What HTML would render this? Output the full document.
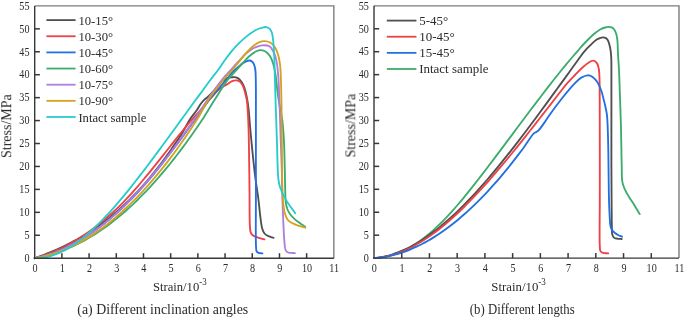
<!DOCTYPE html>
<html><head><meta charset="utf-8"><style>
html,body{margin:0;padding:0;background:#fff;}
body{width:685px;height:319px;overflow:hidden;}
svg{display:block;}
text{font-family:"Liberation Serif",serif;fill:#2a2a2a;}
.tx{opacity:0.995;will-change:opacity;}



</style></head><body>
<svg width="685" height="319" viewBox="0 0 685 319">
<rect width="685" height="319" fill="#fff"/>
<g fill="none" stroke-width="1.85" stroke-linecap="round" stroke-linejoin="round">
<path d="M34.70,258.20 C36.03,257.72 37.37,257.25 38.70,256.75 C40.03,256.26 41.37,255.76 42.70,255.25 C44.04,254.74 45.37,254.22 46.70,253.69 C48.04,253.16 49.37,252.62 50.70,252.06 C52.04,251.51 53.37,250.94 54.70,250.37 C56.04,249.79 57.37,249.20 58.70,248.59 C60.04,247.99 61.37,247.37 62.70,246.74 C64.04,246.11 65.37,245.47 66.70,244.81 C68.04,244.15 69.37,243.47 70.70,242.78 C72.04,242.09 73.37,241.39 74.70,240.66 C76.04,239.94 77.37,239.20 78.70,238.45 C80.04,237.69 81.37,236.92 82.70,236.13 C84.04,235.34 85.37,234.53 86.70,233.70 C88.04,232.87 89.37,232.03 90.70,231.17 C92.04,230.30 93.37,229.41 94.70,228.51 C96.04,227.60 97.37,226.68 98.70,225.73 C100.04,224.78 101.37,223.82 102.70,222.83 C104.04,221.84 105.37,220.83 106.70,219.80 C108.04,218.76 109.37,217.70 110.70,216.63 C112.04,215.54 113.37,214.44 114.70,213.32 C116.04,212.19 117.37,211.04 118.70,209.87 C120.04,208.68 121.37,207.48 122.70,206.26 C124.04,205.03 125.37,203.78 126.70,202.50 C128.04,201.22 129.37,199.91 130.70,198.59 C132.04,197.25 133.37,195.89 134.70,194.51 C136.04,193.11 137.37,191.70 138.70,190.26 C140.04,188.81 141.37,187.34 142.70,185.85 C144.04,184.35 145.37,182.82 146.70,181.28 C148.04,179.71 149.37,178.13 150.70,176.53 C152.04,174.91 153.37,173.27 154.70,171.61 C156.04,169.93 157.37,168.23 158.70,166.52 C160.04,164.78 161.37,163.03 162.70,161.25 C164.04,159.46 165.37,157.64 166.70,155.81 C168.04,153.95 169.37,152.08 170.70,150.18 C172.04,148.27 173.37,146.33 174.70,144.38 C176.04,142.41 177.37,140.41 178.70,138.40 C180.04,136.36 181.24,134.67 182.70,132.24 C184.72,128.88 187.05,123.80 189.50,120.00 C191.81,116.42 194.84,113.01 196.90,110.00 C198.52,107.63 199.63,105.35 201.00,103.50 C202.13,101.98 203.25,100.68 204.40,99.60 C205.39,98.67 206.41,98.13 207.40,97.30 C208.44,96.43 209.48,95.53 210.50,94.50 C211.61,93.38 212.67,92.08 213.80,90.80 C215.00,89.43 216.29,87.94 217.50,86.50 C218.69,85.07 219.75,83.39 221.00,82.20 C222.10,81.14 223.29,80.31 224.50,79.60 C225.63,78.93 226.80,78.38 228.00,78.00 C229.17,77.62 230.42,77.45 231.60,77.30 C232.72,77.16 233.82,76.93 234.90,77.10 C236.02,77.28 237.25,77.80 238.20,78.40 C239.09,78.96 239.77,79.63 240.50,80.50 C241.39,81.57 242.24,82.96 243.00,84.50 C243.92,86.36 244.72,88.63 245.40,91.00 C246.19,93.73 246.76,96.91 247.30,100.00 C247.87,103.24 248.31,106.51 248.70,110.00 C249.13,113.81 249.32,117.60 249.70,122.00 C250.16,127.39 250.62,133.01 251.30,140.00 C252.25,149.75 253.69,164.32 255.00,175.00 C256.11,184.04 257.54,192.34 258.50,200.00 C259.31,206.49 259.79,212.81 260.50,218.00 C261.04,221.98 261.34,225.69 262.20,228.50 C262.82,230.52 263.39,232.20 264.50,233.50 C265.54,234.72 267.03,235.49 268.50,236.20 C270.05,236.95 271.90,237.27 273.60,237.80" stroke="#4f4f4f"/>
<path d="M34.70,258.20 C36.03,257.80 37.37,257.41 38.70,256.99 C40.04,256.57 41.37,256.14 42.70,255.70 C44.04,255.25 45.37,254.79 46.70,254.31 C48.04,253.82 49.37,253.33 50.70,252.80 C52.04,252.28 53.37,251.74 54.70,251.18 C56.04,250.61 57.37,250.03 58.70,249.42 C60.04,248.80 61.37,248.17 62.70,247.51 C64.04,246.85 65.37,246.16 66.70,245.46 C68.04,244.75 69.37,244.01 70.70,243.26 C72.04,242.51 73.37,241.73 74.70,240.94 C76.04,240.14 77.37,239.33 78.70,238.50 C80.04,237.66 81.37,236.81 82.70,235.94 C84.04,235.06 85.37,234.16 86.70,233.25 C88.04,232.33 89.37,231.39 90.70,230.44 C92.04,229.47 93.37,228.49 94.70,227.49 C96.04,226.48 97.37,225.46 98.70,224.41 C100.04,223.35 101.37,222.28 102.70,221.19 C104.04,220.08 105.37,218.96 106.70,217.82 C108.04,216.66 109.37,215.49 110.70,214.30 C112.04,213.09 113.37,211.87 114.70,210.62 C116.04,209.37 117.37,208.09 118.70,206.79 C120.04,205.48 121.37,204.15 122.70,202.80 C124.04,201.43 125.37,200.04 126.70,198.63 C128.04,197.21 129.37,195.77 130.70,194.31 C132.04,192.84 133.37,191.35 134.70,189.84 C136.04,188.32 137.37,186.78 138.70,185.24 C140.04,183.68 141.37,182.11 142.70,180.52 C144.04,178.93 145.37,177.32 146.70,175.71 C148.04,174.09 149.37,172.45 150.70,170.82 C152.04,169.17 153.37,167.52 154.70,165.86 C156.04,164.19 157.37,162.52 158.70,160.85 C160.03,159.18 161.37,157.50 162.70,155.82 C164.03,154.13 165.37,152.45 166.70,150.77 C168.03,149.08 169.37,147.40 170.70,145.72 C172.03,144.04 173.37,142.36 174.70,140.69 C176.03,139.02 177.36,137.35 178.70,135.69 C180.03,134.04 181.36,132.39 182.70,130.75 C184.03,129.12 184.95,127.95 186.70,125.87 C189.90,122.08 196.55,114.55 200.50,110.00 C203.47,106.58 205.84,103.81 208.30,101.00 C210.48,98.51 212.51,96.11 214.50,94.00 C216.23,92.16 217.86,90.35 219.50,89.00 C220.85,87.88 222.19,87.09 223.50,86.30 C224.69,85.58 225.77,85.14 227.00,84.40 C228.45,83.52 229.94,81.97 231.60,81.30 C233.22,80.65 235.29,80.21 236.80,80.40 C238.05,80.56 239.13,81.11 240.10,81.90 C241.21,82.81 242.12,84.26 242.90,85.80 C243.82,87.63 244.37,90.03 245.00,92.30 C245.68,94.74 246.33,96.99 246.80,100.00 C247.45,104.15 247.70,110.00 248.00,115.00 C248.30,120.00 248.44,124.64 248.60,130.00 C248.79,136.19 248.87,142.19 249.00,150.00 C249.18,161.05 249.35,177.02 249.50,190.00 C249.65,202.32 249.41,218.93 249.90,226.00 C250.10,228.97 250.04,230.62 250.70,232.30 C251.22,233.63 251.93,234.65 253.00,235.50 C254.25,236.50 256.21,236.98 258.00,237.60 C259.98,238.29 262.27,238.80 264.40,239.40" stroke="#ee4045"/>
<path d="M34.70,258.20 C36.03,257.88 37.37,257.58 38.70,257.24 C40.04,256.90 41.37,256.54 42.70,256.16 C44.04,255.79 45.37,255.39 46.70,254.98 C48.04,254.56 49.37,254.12 50.70,253.67 C52.04,253.21 53.37,252.74 54.70,252.24 C56.04,251.74 57.37,251.22 58.70,250.68 C60.04,250.14 61.37,249.58 62.70,249.00 C64.04,248.41 65.37,247.81 66.70,247.18 C68.04,246.55 69.37,245.90 70.70,245.23 C72.04,244.56 73.37,243.86 74.70,243.15 C76.04,242.43 77.37,241.69 78.70,240.93 C80.04,240.16 81.37,239.38 82.70,238.57 C84.04,237.76 85.37,236.93 86.70,236.08 C88.04,235.23 89.37,234.35 90.70,233.46 C92.04,232.56 93.37,231.64 94.70,230.70 C96.04,229.75 97.37,228.79 98.70,227.80 C100.04,226.81 101.37,225.80 102.70,224.77 C104.04,223.73 105.37,222.67 106.70,221.60 C108.04,220.51 109.37,219.41 110.70,218.29 C112.04,217.16 113.37,216.01 114.70,214.85 C116.04,213.67 117.37,212.48 118.70,211.27 C120.04,210.05 121.37,208.81 122.70,207.55 C124.04,206.28 125.37,205.00 126.70,203.70 C128.04,202.39 129.37,201.06 130.70,199.71 C132.04,198.35 133.37,196.97 134.70,195.58 C136.04,194.18 137.37,192.76 138.70,191.32 C140.04,189.87 141.37,188.40 142.70,186.92 C144.04,185.42 145.37,183.91 146.70,182.38 C148.04,180.84 149.37,179.28 150.70,177.71 C152.04,176.12 153.37,174.52 154.70,172.90 C156.04,171.27 157.37,169.63 158.70,167.97 C160.04,166.31 161.37,164.63 162.70,162.93 C164.04,161.23 165.37,159.52 166.70,157.79 C168.04,156.06 169.37,154.31 170.70,152.56 C172.04,150.80 173.37,149.02 174.70,147.24 C176.04,145.46 177.37,143.66 178.70,141.86 C180.04,140.05 181.37,138.23 182.70,136.41 C184.04,134.58 185.37,132.75 186.70,130.91 C188.03,129.08 189.37,127.24 190.70,125.40 C192.03,123.56 193.37,121.72 194.70,119.89 C196.03,118.06 197.36,116.23 198.70,114.41 C200.03,112.59 201.23,111.02 202.70,108.98 C204.58,106.37 206.29,103.51 209.00,100.00 C213.20,94.57 221.48,85.32 226.00,80.00 C229.00,76.47 231.17,73.56 233.50,71.20 C235.27,69.41 236.88,68.17 238.50,66.80 C239.97,65.55 241.40,64.26 242.80,63.30 C243.99,62.48 245.14,61.77 246.30,61.30 C247.34,60.88 248.42,60.44 249.40,60.50 C250.31,60.55 251.26,60.92 252.00,61.50 C252.83,62.15 253.47,63.24 254.00,64.40 C254.64,65.81 255.00,67.48 255.30,69.50 C255.73,72.36 255.68,75.37 255.80,80.00 C256.03,89.03 255.88,104.38 255.90,120.00 C255.93,142.09 255.87,177.00 255.90,200.00 C255.92,217.44 255.55,238.23 256.00,246.00 C256.15,248.64 255.97,250.12 256.60,251.30 C257.03,252.11 257.69,252.54 258.50,252.90 C259.52,253.35 261.10,253.23 262.40,253.40" stroke="#2270e0"/>
<path d="M34.70,258.20 C36.03,257.96 37.37,257.74 38.70,257.48 C40.04,257.21 41.37,256.93 42.70,256.63 C44.04,256.33 45.37,256.01 46.70,255.66 C48.04,255.32 49.37,254.96 50.70,254.57 C52.04,254.19 53.37,253.78 54.70,253.36 C56.04,252.93 57.37,252.49 58.70,252.02 C60.04,251.55 61.37,251.07 62.70,250.56 C64.04,250.05 65.37,249.52 66.70,248.97 C68.04,248.42 69.37,247.85 70.70,247.26 C72.04,246.67 73.37,246.06 74.70,245.42 C76.04,244.79 77.37,244.14 78.70,243.46 C80.04,242.79 81.37,242.09 82.70,241.37 C84.04,240.66 85.37,239.92 86.70,239.16 C88.04,238.40 89.37,237.62 90.70,236.82 C92.04,236.02 93.37,235.19 94.70,234.35 C96.04,233.51 97.37,232.64 98.70,231.76 C100.04,230.87 101.37,229.96 102.70,229.04 C104.04,228.10 105.37,227.15 106.70,226.19 C108.04,225.21 109.37,224.22 110.70,223.21 C112.04,222.19 113.37,221.15 114.70,220.10 C116.04,219.04 117.37,217.96 118.70,216.86 C120.04,215.76 121.37,214.64 122.70,213.50 C124.04,212.35 125.37,211.18 126.70,210.00 C128.04,208.81 129.37,207.60 130.70,206.38 C132.04,205.14 133.37,203.89 134.70,202.62 C136.04,201.34 137.37,200.05 138.70,198.74 C140.04,197.41 141.37,196.07 142.70,194.72 C144.04,193.35 145.37,191.97 146.70,190.57 C148.04,189.16 149.37,187.73 150.70,186.29 C152.04,184.84 153.37,183.37 154.70,181.89 C156.04,180.39 157.37,178.88 158.70,177.35 C160.04,175.81 161.37,174.25 162.70,172.68 C164.04,171.10 165.37,169.50 166.70,167.89 C168.04,166.26 169.37,164.62 170.70,162.97 C172.04,161.30 173.37,159.61 174.70,157.92 C176.04,156.20 177.37,154.48 178.70,152.74 C180.04,150.98 181.37,149.22 182.70,147.43 C184.04,145.64 185.37,143.83 186.70,142.00 C188.04,140.17 189.37,138.31 190.70,136.45 C192.04,134.57 193.37,132.67 194.70,130.76 C196.04,128.84 197.37,126.91 198.70,124.96 C200.04,122.99 201.05,121.58 202.70,119.02 C205.63,114.50 210.42,106.40 214.50,100.00 C218.71,93.39 223.44,85.40 227.60,80.00 C230.72,75.95 233.84,73.10 236.60,70.00 C238.98,67.33 241.00,64.89 243.20,62.50 C245.30,60.23 247.31,57.88 249.50,56.00 C251.52,54.26 253.84,52.47 255.80,51.50 C257.28,50.77 258.65,50.33 260.00,50.20 C261.21,50.09 262.41,50.26 263.50,50.60 C264.57,50.93 265.52,51.43 266.50,52.20 C267.74,53.18 269.06,54.63 270.10,56.30 C271.37,58.34 272.33,61.01 273.20,63.80 C274.23,67.12 274.94,70.98 275.60,75.00 C276.35,79.62 276.65,85.01 277.30,90.00 C277.95,95.01 278.67,100.01 279.50,105.00 C280.33,110.01 281.58,114.62 282.30,120.00 C283.12,126.17 283.50,132.65 283.90,140.00 C284.39,148.98 284.58,161.01 284.80,170.00 C284.98,177.34 285.00,184.11 285.20,190.00 C285.36,194.66 285.29,198.95 285.80,202.50 C286.19,205.19 286.71,207.47 287.50,209.50 C288.17,211.22 288.92,212.49 290.00,214.00 C291.28,215.79 293.17,217.83 294.90,219.40 C296.52,220.87 298.28,221.97 300.00,223.20 C301.71,224.43 303.47,225.60 305.20,226.80" stroke="#3cac6c"/>
<path d="M34.70,258.20 C36.03,257.91 37.37,257.65 38.70,257.34 C40.04,257.03 41.37,256.70 42.70,256.34 C44.04,255.98 45.37,255.60 46.70,255.20 C48.04,254.80 49.37,254.37 50.70,253.92 C52.04,253.47 53.37,253.00 54.70,252.51 C56.04,252.01 57.37,251.49 58.70,250.95 C60.04,250.40 61.37,249.84 62.70,249.25 C64.04,248.66 65.37,248.05 66.70,247.42 C68.04,246.78 69.37,246.12 70.70,245.44 C72.04,244.76 73.37,244.05 74.70,243.33 C76.04,242.60 77.37,241.85 78.70,241.08 C80.04,240.30 81.37,239.50 82.70,238.69 C84.04,237.86 85.37,237.02 86.70,236.16 C88.04,235.29 89.37,234.40 90.70,233.50 C92.04,232.58 93.37,231.65 94.70,230.69 C96.04,229.73 97.37,228.75 98.70,227.75 C100.04,226.75 101.37,225.72 102.70,224.68 C104.04,223.63 105.37,222.56 106.70,221.47 C108.04,220.37 109.37,219.25 110.70,218.12 C112.04,216.97 113.37,215.81 114.70,214.63 C116.04,213.44 117.37,212.24 118.70,211.01 C120.04,209.78 121.37,208.52 122.70,207.25 C124.04,205.97 125.37,204.68 126.70,203.36 C128.04,202.04 129.37,200.69 130.70,199.33 C132.04,197.96 133.37,196.58 134.70,195.17 C136.04,193.76 137.37,192.33 138.70,190.88 C140.04,189.42 141.37,187.95 142.70,186.46 C144.04,184.96 145.37,183.44 146.70,181.91 C148.04,180.37 149.37,178.82 150.70,177.25 C152.04,175.67 153.37,174.07 154.70,172.46 C156.04,170.84 157.37,169.21 158.70,167.56 C160.04,165.91 161.37,164.24 162.70,162.55 C164.04,160.86 165.37,159.15 166.70,157.43 C168.04,155.71 169.37,153.96 170.70,152.21 C172.04,150.45 173.37,148.67 174.70,146.89 C176.04,145.09 177.37,143.28 178.70,141.47 C180.04,139.64 181.37,137.80 182.70,135.95 C184.04,134.09 185.37,132.22 186.70,130.35 C188.04,128.47 189.37,126.57 190.70,124.68 C192.04,122.77 193.37,120.86 194.70,118.95 C196.04,117.03 197.13,115.50 198.70,113.17 C201.04,109.69 203.99,104.80 207.30,100.00 C211.44,93.98 217.43,85.43 221.80,80.00 C225.02,76.00 227.82,73.19 230.70,70.00 C233.37,67.04 235.92,64.28 238.50,61.50 C241.02,58.79 243.68,55.62 246.00,53.50 C247.77,51.89 249.28,50.69 251.00,49.60 C252.62,48.58 254.23,47.80 256.00,47.10 C257.88,46.35 259.87,45.47 262.00,45.30 C264.34,45.11 267.60,45.18 269.50,46.30 C271.22,47.32 272.14,49.31 273.20,51.30 C274.50,53.74 275.50,56.73 276.30,60.10 C277.31,64.37 277.71,69.38 278.20,75.00 C278.84,82.25 279.03,90.69 279.40,100.00 C279.87,111.77 280.27,127.62 280.70,140.00 C281.07,150.72 281.53,160.45 281.80,170.00 C282.05,178.71 282.07,186.67 282.30,195.00 C282.53,203.33 282.84,212.13 283.20,220.00 C283.52,227.04 283.84,234.57 284.30,240.00 C284.62,243.76 284.54,247.35 285.40,249.50 C285.92,250.80 286.57,251.73 287.50,252.30 C288.44,252.87 289.80,252.77 291.00,252.90 C292.26,253.04 293.60,253.03 294.90,253.10" stroke="#b07ce0"/>
<path d="M34.70,258.20 C36.03,257.95 37.37,257.73 38.70,257.47 C40.04,257.20 41.37,256.91 42.70,256.60 C44.04,256.29 45.37,255.96 46.70,255.60 C48.04,255.25 49.37,254.87 50.70,254.48 C52.04,254.08 53.37,253.66 54.70,253.22 C56.04,252.77 57.37,252.31 58.70,251.82 C60.04,251.34 61.37,250.83 62.70,250.30 C64.04,249.77 65.37,249.21 66.70,248.64 C68.04,248.06 69.37,247.47 70.70,246.85 C72.04,246.23 73.37,245.59 74.70,244.92 C76.04,244.26 77.37,243.57 78.70,242.86 C80.04,242.15 81.37,241.42 82.70,240.67 C84.04,239.91 85.37,239.14 86.70,238.34 C88.04,237.54 89.37,236.72 90.70,235.88 C92.04,235.03 93.37,234.16 94.70,233.28 C96.04,232.38 97.37,231.47 98.70,230.54 C100.04,229.60 101.37,228.64 102.70,227.67 C104.04,226.68 105.37,225.68 106.70,224.66 C108.04,223.63 109.37,222.58 110.70,221.51 C112.04,220.43 113.37,219.34 114.70,218.22 C116.04,217.10 117.37,215.96 118.70,214.80 C120.04,213.63 121.37,212.44 122.70,211.24 C124.04,210.02 125.37,208.79 126.70,207.54 C128.04,206.28 129.37,205.00 130.70,203.70 C132.04,202.39 133.37,201.06 134.70,199.72 C136.04,198.37 137.37,196.99 138.70,195.60 C140.04,194.20 141.37,192.78 142.70,191.34 C144.04,189.89 145.37,188.43 146.70,186.94 C148.04,185.45 149.37,183.93 150.70,182.40 C152.04,180.86 153.37,179.30 154.70,177.72 C156.04,176.13 157.37,174.52 158.70,172.90 C160.04,171.26 161.37,169.61 162.70,167.94 C164.04,166.25 165.37,164.55 166.70,162.83 C168.04,161.10 169.37,159.35 170.70,157.59 C172.04,155.81 173.37,154.01 174.70,152.20 C176.04,150.37 177.37,148.53 178.70,146.67 C180.04,144.79 181.37,142.90 182.70,140.99 C184.04,139.07 185.37,137.13 186.70,135.18 C188.04,133.20 189.37,131.21 190.70,129.20 C192.04,127.17 193.37,125.13 194.70,123.06 C196.04,120.97 197.11,119.37 198.70,116.73 C201.25,112.50 204.54,105.71 208.30,100.00 C212.58,93.50 218.85,85.45 223.30,80.00 C226.56,76.01 229.52,73.14 232.20,70.00 C234.51,67.29 236.28,64.99 238.50,62.30 C240.96,59.32 243.61,55.80 246.30,52.90 C248.85,50.16 251.72,47.17 254.20,45.30 C256.05,43.90 257.71,42.90 259.50,42.20 C261.12,41.56 262.71,41.08 264.40,41.10 C266.23,41.12 268.38,41.53 270.10,42.50 C271.99,43.56 273.77,45.50 275.10,47.50 C276.53,49.65 277.39,52.35 278.20,55.10 C279.11,58.16 279.65,61.42 280.10,65.10 C280.64,69.56 280.68,74.39 280.90,80.00 C281.18,87.26 281.34,95.45 281.50,105.00 C281.71,117.81 281.74,135.44 281.90,150.00 C282.05,163.73 282.04,180.32 282.40,190.00 C282.60,195.52 282.75,198.96 283.20,203.00 C283.59,206.56 284.00,210.10 284.80,213.00 C285.45,215.35 286.14,217.58 287.30,219.20 C288.29,220.59 289.69,221.54 291.00,222.40 C292.23,223.21 293.49,223.71 294.90,224.30 C296.47,224.96 298.29,225.53 300.00,226.10 C301.72,226.67 303.47,227.17 305.20,227.70" stroke="#d4a21e"/>
<path d="M34.70,258.20 C36.03,258.18 37.37,258.21 38.70,258.14 C40.03,258.06 41.37,257.93 42.70,257.75 C44.04,257.57 45.37,257.33 46.70,257.04 C48.04,256.76 49.37,256.42 50.70,256.03 C52.04,255.64 53.37,255.20 54.70,254.72 C56.04,254.23 57.37,253.70 58.70,253.12 C60.04,252.54 61.38,251.91 62.70,251.25 C64.04,250.58 65.38,249.86 66.70,249.11 C68.04,248.35 69.38,247.55 70.70,246.72 C72.04,245.87 73.38,244.99 74.70,244.08 C76.04,243.16 77.38,242.20 78.70,241.21 C80.04,240.21 81.38,239.17 82.70,238.11 C84.04,237.04 85.37,235.93 86.70,234.81 C88.04,233.66 89.37,232.49 90.70,231.29 C92.04,230.09 93.37,228.85 94.70,227.59 C96.04,226.32 97.37,225.02 98.70,223.71 C100.04,222.38 101.37,221.02 102.70,219.65 C104.04,218.27 105.37,216.86 106.70,215.44 C108.04,214.00 109.37,212.54 110.70,211.07 C112.04,209.58 113.37,208.08 114.70,206.56 C116.04,205.03 117.37,203.49 118.70,201.93 C120.04,200.36 121.37,198.77 122.70,197.17 C124.04,195.56 125.37,193.94 126.70,192.31 C128.04,190.67 129.37,189.01 130.70,187.35 C132.04,185.68 133.37,183.99 134.70,182.30 C136.04,180.60 137.37,178.89 138.70,177.18 C140.04,175.45 141.37,173.72 142.70,171.98 C144.04,170.24 145.37,168.48 146.70,166.73 C148.04,164.96 149.37,163.19 150.70,161.41 C152.04,159.63 153.37,157.85 154.70,156.06 C156.03,154.26 157.37,152.46 158.70,150.65 C160.03,148.85 161.37,147.03 162.70,145.22 C164.03,143.40 165.37,141.58 166.70,139.76 C168.03,137.93 169.37,136.10 170.70,134.27 C172.03,132.44 173.37,130.61 174.70,128.77 C176.03,126.94 177.37,125.10 178.70,123.27 C180.03,121.43 181.37,119.59 182.70,117.76 C184.03,115.93 185.37,114.09 186.70,112.26 C188.03,110.43 189.37,108.60 190.70,106.77 C192.03,104.95 193.37,103.13 194.70,101.31 C196.03,99.49 197.37,97.68 198.70,95.87 C200.03,94.06 201.16,92.56 202.70,90.46 C204.84,87.55 207.72,83.43 210.30,80.00 C212.85,76.61 215.69,73.30 218.10,70.00 C220.36,66.90 222.27,63.79 224.40,60.80 C226.47,57.89 228.41,55.09 230.70,52.30 C233.10,49.38 235.83,46.37 238.50,43.70 C241.04,41.15 243.62,38.75 246.30,36.60 C248.86,34.54 251.79,32.42 254.20,31.00 C256.06,29.90 257.73,29.13 259.40,28.50 C260.85,27.95 262.32,27.52 263.60,27.30 C264.65,27.12 265.55,26.91 266.50,27.10 C267.52,27.30 268.66,27.81 269.50,28.60 C270.48,29.51 271.22,30.93 271.80,32.50 C272.55,34.54 272.74,37.06 273.10,40.00 C273.61,44.13 273.92,49.64 274.20,55.00 C274.52,61.18 274.58,67.66 274.80,75.00 C275.07,83.99 275.37,94.62 275.70,105.00 C276.06,116.22 276.55,128.98 276.90,140.00 C277.21,149.85 277.35,160.62 277.70,168.00 C277.93,172.84 278.02,176.55 278.50,180.00 C278.87,182.66 279.16,184.42 280.00,187.00 C281.12,190.43 282.97,194.61 285.20,198.60 C287.84,203.32 291.87,208.40 295.20,213.30" stroke="#26cccc"/>
<path d="M374.00,258.10 C376.00,257.95 378.01,257.89 380.00,257.65 C382.01,257.41 384.01,257.07 386.00,256.64 C388.01,256.21 390.01,255.69 392.00,255.09 C394.01,254.48 396.01,253.77 398.00,253.00 C400.02,252.20 402.02,251.32 404.00,250.37 C406.02,249.40 408.02,248.35 410.00,247.23 C412.02,246.08 414.02,244.86 416.00,243.57 C418.02,242.25 420.02,240.86 422.00,239.40 C424.02,237.92 426.02,236.36 428.00,234.74 C430.02,233.09 432.02,231.36 434.00,229.59 C436.02,227.77 438.02,225.89 440.00,223.96 C442.02,221.98 444.02,219.94 446.00,217.86 C448.02,215.74 450.01,213.57 452.00,211.35 C454.01,209.11 456.01,206.81 458.00,204.49 C460.01,202.14 462.01,199.74 464.00,197.33 C466.01,194.89 468.01,192.41 470.00,189.93 C472.01,187.42 474.01,184.89 476.00,182.34 C478.01,179.78 480.00,177.21 482.00,174.62 C484.00,172.02 486.00,169.41 488.00,166.79 C490.00,164.16 492.00,161.52 494.00,158.87 C496.00,156.22 498.00,153.56 500.00,150.89 C502.00,148.22 504.00,145.55 506.00,142.87 C508.00,140.19 510.00,137.51 512.00,134.83 C514.00,132.14 516.00,129.46 518.00,126.78 C520.00,124.10 522.00,121.42 524.00,118.75 C526.00,116.08 528.00,113.41 530.00,110.75 C532.00,108.10 534.00,105.45 536.00,102.82 C538.00,100.19 540.00,97.57 542.00,94.96 C544.00,92.36 546.00,89.77 548.00,87.19 C550.00,84.63 551.99,82.08 554.00,79.55 C555.99,77.03 557.99,74.52 560.00,72.04 C561.99,69.57 563.99,67.11 566.00,64.68 C567.99,62.27 569.99,59.87 572.00,57.51 C573.99,55.16 575.99,52.82 578.00,50.52 C579.99,48.24 581.77,46.12 584.00,43.76 C586.62,40.99 590.45,37.11 592.80,35.00 C594.26,33.69 595.20,32.95 596.50,32.00 C597.83,31.02 599.25,29.96 600.70,29.20 C602.09,28.47 603.62,27.89 605.00,27.50 C606.21,27.16 607.36,26.91 608.50,26.90 C609.59,26.89 610.74,26.95 611.70,27.40 C612.72,27.88 613.66,28.76 614.40,29.80 C615.29,31.03 615.91,32.81 616.40,34.50 C616.94,36.33 617.15,38.02 617.40,40.40 C617.78,44.01 617.75,49.36 618.00,54.10 C618.27,59.20 618.71,64.10 619.00,70.00 C619.37,77.39 619.60,86.29 619.90,95.00 C620.23,104.54 620.65,115.45 620.90,125.00 C621.13,133.71 621.25,142.73 621.40,150.00 C621.51,155.64 621.54,159.83 621.70,165.00 C621.87,170.54 621.59,177.80 622.40,182.20 C622.92,185.06 623.68,186.78 624.70,189.10 C625.83,191.67 627.45,194.33 629.00,196.90 C630.58,199.53 632.39,201.96 634.10,204.70 C635.95,207.67 637.83,210.97 639.70,214.10" stroke="#3cac6c"/>
<path d="M374.00,258.10 C376.00,257.85 378.01,257.69 380.00,257.37 C382.01,257.05 384.01,256.64 386.00,256.17 C388.01,255.70 390.01,255.14 392.00,254.52 C394.01,253.90 396.01,253.20 398.00,252.44 C400.01,251.67 402.01,250.83 404.00,249.94 C406.01,249.03 408.01,248.05 410.00,247.02 C412.01,245.98 414.01,244.87 416.00,243.72 C418.01,242.55 420.01,241.31 422.00,240.04 C424.01,238.74 426.01,237.39 428.00,235.99 C430.01,234.57 432.01,233.10 434.00,231.59 C436.01,230.06 438.01,228.48 440.00,226.86 C442.01,225.22 444.01,223.54 446.00,221.81 C448.01,220.07 450.01,218.28 452.00,216.46 C454.01,214.61 456.01,212.73 458.00,210.81 C460.01,208.87 462.01,206.90 464.00,204.89 C466.01,202.86 468.01,200.80 470.00,198.70 C472.01,196.59 474.01,194.44 476.00,192.27 C478.01,190.08 480.01,187.86 482.00,185.61 C484.01,183.34 486.01,181.04 488.00,178.73 C490.01,176.39 492.01,174.02 494.00,171.64 C496.01,169.24 498.01,166.81 500.00,164.37 C502.01,161.91 504.01,159.42 506.00,156.92 C508.01,154.41 510.01,151.87 512.00,149.32 C514.01,146.76 516.00,144.18 518.00,141.59 C520.00,138.98 522.00,136.36 524.00,133.72 C526.00,131.08 528.00,128.42 530.00,125.76 C532.00,123.08 534.00,120.39 536.00,117.70 C538.00,114.99 540.00,112.28 542.00,109.56 C544.00,106.84 546.00,104.10 548.00,101.37 C550.00,98.63 552.00,95.88 554.00,93.13 C556.00,90.38 558.00,87.62 560.00,84.87 C562.00,82.11 564.00,79.35 566.00,76.59 C568.00,73.83 570.00,71.08 572.00,68.32 C574.00,65.57 576.00,62.82 578.00,60.07 C580.00,57.33 581.88,54.39 584.00,51.86 C586.02,49.45 588.22,47.28 590.40,45.20 C592.49,43.20 594.88,40.87 596.80,39.60 C598.14,38.71 599.36,38.16 600.50,37.80 C601.39,37.52 602.17,37.38 603.00,37.40 C603.83,37.42 604.74,37.52 605.50,37.90 C606.32,38.31 607.06,38.90 607.70,39.90 C608.75,41.54 609.52,44.80 610.10,47.50 C610.73,50.44 610.97,53.25 611.20,56.90 C611.52,61.95 611.36,67.62 611.40,75.00 C611.46,86.64 611.40,105.00 611.40,120.00 C611.40,135.00 611.36,150.94 611.40,165.00 C611.44,177.40 611.51,188.98 611.60,200.00 C611.68,209.85 611.68,221.93 611.90,228.00 C612.01,230.93 611.80,232.77 612.30,234.50 C612.67,235.77 613.18,236.92 614.00,237.60 C614.77,238.25 615.87,238.37 617.00,238.60 C618.38,238.88 620.13,238.87 621.70,239.00" stroke="#4f4f4f"/>
<path d="M374.00,258.10 C376.00,257.92 378.01,257.83 380.00,257.57 C382.01,257.31 384.01,256.97 386.00,256.56 C388.01,256.14 390.01,255.64 392.00,255.08 C394.01,254.51 396.01,253.86 398.00,253.15 C400.01,252.43 402.01,251.63 404.00,250.78 C406.01,249.92 408.01,248.98 410.00,248.00 C412.01,247.00 414.01,245.93 416.00,244.81 C418.01,243.68 420.01,242.49 422.00,241.25 C424.01,239.99 426.01,238.68 428.00,237.32 C430.01,235.94 432.01,234.51 434.00,233.03 C436.01,231.54 438.01,230.00 440.00,228.42 C442.01,226.82 444.01,225.17 446.00,223.49 C448.01,221.79 450.01,220.04 452.00,218.26 C454.01,216.46 456.01,214.62 458.00,212.75 C460.01,210.86 462.01,208.93 464.00,206.97 C466.01,205.00 468.01,202.98 470.00,200.95 C472.01,198.89 474.01,196.80 476.00,194.69 C478.01,192.56 480.01,190.40 482.00,188.22 C484.01,186.02 486.01,183.80 488.00,181.55 C490.01,179.29 492.01,177.01 494.00,174.70 C496.01,172.39 498.01,170.05 500.00,167.69 C502.01,165.32 504.01,162.93 506.00,160.53 C508.01,158.12 510.00,155.69 512.00,153.24 C514.00,150.79 516.00,148.32 518.00,145.84 C520.00,143.35 522.00,140.85 524.00,138.34 C526.00,135.83 528.00,133.30 530.00,130.76 C532.00,128.23 534.00,125.68 536.00,123.12 C538.00,120.57 540.00,118.00 542.00,115.44 C544.00,112.87 546.00,110.30 548.00,107.72 C550.00,105.15 552.00,102.57 554.00,100.00 C556.00,97.42 558.00,94.85 560.00,92.28 C562.00,89.71 563.73,87.23 566.00,84.58 C568.64,81.50 572.11,77.98 575.00,75.00 C577.59,72.33 580.05,69.69 582.50,67.50 C584.64,65.60 586.81,63.69 588.80,62.50 C590.33,61.58 591.83,60.47 593.20,60.60 C594.52,60.72 595.98,61.89 596.90,63.10 C597.96,64.50 598.36,66.60 598.80,68.80 C599.36,71.64 599.34,74.84 599.50,78.80 C599.73,84.55 599.65,91.44 599.70,100.00 C599.78,113.15 599.78,133.33 599.80,150.00 C599.82,166.67 599.80,183.68 599.80,200.00 C599.80,215.65 599.29,238.24 599.80,246.00 C599.97,248.65 599.76,250.14 600.50,251.30 C601.05,252.17 601.96,252.55 603.00,252.90 C604.39,253.37 606.53,253.17 608.30,253.30" stroke="#ee4045"/>
<path d="M374.00,258.10 C376.00,257.91 378.00,257.78 380.00,257.53 C382.00,257.28 384.01,256.97 386.00,256.61 C388.01,256.25 390.01,255.83 392.00,255.35 C394.01,254.87 396.01,254.33 398.00,253.75 C400.01,253.15 402.01,252.50 404.00,251.81 C406.01,251.10 408.01,250.34 410.00,249.53 C412.01,248.71 414.01,247.84 416.00,246.93 C418.01,246.00 420.01,245.02 422.00,243.99 C424.01,242.95 426.01,241.87 428.00,240.73 C430.01,239.59 432.01,238.39 434.00,237.16 C436.01,235.90 438.01,234.60 440.00,233.26 C442.01,231.90 444.01,230.49 446.00,229.05 C448.01,227.58 450.01,226.07 452.00,224.52 C454.01,222.96 456.01,221.34 458.00,219.69 C460.01,218.02 462.01,216.31 464.00,214.56 C466.01,212.79 468.01,210.97 470.00,209.12 C472.01,207.25 474.01,205.34 476.00,203.39 C478.01,201.42 480.01,199.40 482.00,197.36 C484.01,195.29 486.01,193.18 488.00,191.04 C490.01,188.87 492.01,186.67 494.00,184.43 C496.01,182.17 498.01,179.87 500.00,177.53 C502.01,175.18 504.01,172.78 506.00,170.36 C508.01,167.91 510.01,165.42 512.00,162.90 C514.01,160.36 516.01,157.78 518.00,155.18 C520.01,152.54 521.76,150.23 524.00,147.18 C526.95,143.15 531.69,135.15 534.10,133.10 C535.05,132.29 535.73,132.39 536.50,131.90 C537.30,131.39 537.90,131.03 538.80,130.10 C540.67,128.17 544.30,122.71 546.20,120.00 C547.45,118.22 547.84,117.43 549.20,115.50 C551.76,111.86 556.56,105.20 560.70,100.00 C565.12,94.44 571.08,87.21 575.00,83.20 C577.42,80.72 579.08,78.94 581.30,77.60 C583.27,76.42 585.53,75.35 587.50,75.30 C589.27,75.25 591.04,75.88 592.60,76.90 C594.46,78.11 596.19,80.42 597.60,82.60 C599.13,84.97 600.28,87.86 601.30,90.70 C602.36,93.65 603.14,97.47 603.80,100.00 C604.25,101.74 604.51,102.65 604.90,104.40 C605.47,106.94 606.35,110.51 606.80,113.80 C607.28,117.36 607.38,120.73 607.60,125.00 C607.89,130.70 608.05,138.33 608.20,145.00 C608.35,151.67 608.39,157.41 608.50,165.00 C608.65,175.04 608.75,190.77 609.00,200.00 C609.16,206.04 609.32,210.39 609.60,215.00 C609.84,218.95 609.89,223.27 610.50,226.00 C610.88,227.70 611.25,228.83 612.00,230.00 C612.75,231.16 613.91,232.13 615.00,233.00 C616.08,233.86 617.31,234.58 618.50,235.20 C619.64,235.80 620.83,236.20 622.00,236.70" stroke="#2270e0"/>
</g>
<g stroke="#383838" stroke-width="1.5">
<path d="M34.70,5.90 H333.85 V258.20" stroke="#7c7c7c" stroke-width="1.4" fill="none"/>
<path d="M34.70,5.90 V258.20 H333.85" stroke="#383838" stroke-width="1.4" fill="none"/>
<line x1="61.90" y1="258.20" x2="61.90" y2="253.20"/>
<line x1="89.09" y1="258.20" x2="89.09" y2="253.20"/>
<line x1="116.29" y1="258.20" x2="116.29" y2="253.20"/>
<line x1="143.48" y1="258.20" x2="143.48" y2="253.20"/>
<line x1="170.68" y1="258.20" x2="170.68" y2="253.20"/>
<line x1="197.87" y1="258.20" x2="197.87" y2="253.20"/>
<line x1="225.07" y1="258.20" x2="225.07" y2="253.20"/>
<line x1="252.26" y1="258.20" x2="252.26" y2="253.20"/>
<line x1="279.46" y1="258.20" x2="279.46" y2="253.20"/>
<line x1="306.65" y1="258.20" x2="306.65" y2="253.20"/>
<line x1="34.70" y1="235.26" x2="39.90" y2="235.26"/>
<line x1="34.70" y1="212.33" x2="39.90" y2="212.33"/>
<line x1="34.70" y1="189.39" x2="39.90" y2="189.39"/>
<line x1="34.70" y1="166.45" x2="39.90" y2="166.45"/>
<line x1="34.70" y1="143.52" x2="39.90" y2="143.52"/>
<line x1="34.70" y1="120.58" x2="39.90" y2="120.58"/>
<line x1="34.70" y1="97.65" x2="39.90" y2="97.65"/>
<line x1="34.70" y1="74.71" x2="39.90" y2="74.71"/>
<line x1="34.70" y1="51.77" x2="39.90" y2="51.77"/>
<line x1="34.70" y1="28.84" x2="39.90" y2="28.84"/>
<path d="M374.00,5.85 H679.00 V258.10" stroke="#7c7c7c" stroke-width="1.4" fill="none"/>
<path d="M374.00,5.85 V258.10 H679.00" stroke="#383838" stroke-width="1.4" fill="none"/>
<line x1="401.73" y1="258.10" x2="401.73" y2="253.10"/>
<line x1="429.45" y1="258.10" x2="429.45" y2="253.10"/>
<line x1="457.18" y1="258.10" x2="457.18" y2="253.10"/>
<line x1="484.91" y1="258.10" x2="484.91" y2="253.10"/>
<line x1="512.64" y1="258.10" x2="512.64" y2="253.10"/>
<line x1="540.36" y1="258.10" x2="540.36" y2="253.10"/>
<line x1="568.09" y1="258.10" x2="568.09" y2="253.10"/>
<line x1="595.82" y1="258.10" x2="595.82" y2="253.10"/>
<line x1="623.55" y1="258.10" x2="623.55" y2="253.10"/>
<line x1="651.27" y1="258.10" x2="651.27" y2="253.10"/>
<line x1="374.00" y1="235.17" x2="379.20" y2="235.17"/>
<line x1="374.00" y1="212.24" x2="379.20" y2="212.24"/>
<line x1="374.00" y1="189.30" x2="379.20" y2="189.30"/>
<line x1="374.00" y1="166.37" x2="379.20" y2="166.37"/>
<line x1="374.00" y1="143.44" x2="379.20" y2="143.44"/>
<line x1="374.00" y1="120.51" x2="379.20" y2="120.51"/>
<line x1="374.00" y1="97.58" x2="379.20" y2="97.58"/>
<line x1="374.00" y1="74.65" x2="379.20" y2="74.65"/>
<line x1="374.00" y1="51.71" x2="379.20" y2="51.71"/>
<line x1="374.00" y1="28.78" x2="379.20" y2="28.78"/>
</g>
<g class="tx">
<text transform="translate(35.10,271.90) scale(0.860,1)" font-size="11.80" text-anchor="middle">0</text>
<text transform="translate(62.30,271.90) scale(0.860,1)" font-size="11.80" text-anchor="middle">1</text>
<text transform="translate(89.49,271.90) scale(0.860,1)" font-size="11.80" text-anchor="middle">2</text>
<text transform="translate(116.69,271.90) scale(0.860,1)" font-size="11.80" text-anchor="middle">3</text>
<text transform="translate(143.88,271.90) scale(0.860,1)" font-size="11.80" text-anchor="middle">4</text>
<text transform="translate(171.08,271.90) scale(0.860,1)" font-size="11.80" text-anchor="middle">5</text>
<text transform="translate(198.27,271.90) scale(0.860,1)" font-size="11.80" text-anchor="middle">6</text>
<text transform="translate(225.47,271.90) scale(0.860,1)" font-size="11.80" text-anchor="middle">7</text>
<text transform="translate(252.66,271.90) scale(0.860,1)" font-size="11.80" text-anchor="middle">8</text>
<text transform="translate(279.86,271.90) scale(0.860,1)" font-size="11.80" text-anchor="middle">9</text>
<text transform="translate(307.05,271.90) scale(0.860,1)" font-size="11.80" text-anchor="middle">10</text>
<text transform="translate(334.25,271.90) scale(0.860,1)" font-size="11.80" text-anchor="middle">11</text>
<text transform="translate(29.50,261.95) scale(0.860,1)" font-size="11.80" text-anchor="end">0</text>
<text transform="translate(29.50,239.01) scale(0.860,1)" font-size="11.80" text-anchor="end">5</text>
<text transform="translate(29.50,216.08) scale(0.860,1)" font-size="11.80" text-anchor="end">10</text>
<text transform="translate(29.50,193.14) scale(0.860,1)" font-size="11.80" text-anchor="end">15</text>
<text transform="translate(29.50,170.20) scale(0.860,1)" font-size="11.80" text-anchor="end">20</text>
<text transform="translate(29.50,147.27) scale(0.860,1)" font-size="11.80" text-anchor="end">25</text>
<text transform="translate(29.50,124.33) scale(0.860,1)" font-size="11.80" text-anchor="end">30</text>
<text transform="translate(29.50,101.40) scale(0.860,1)" font-size="11.80" text-anchor="end">35</text>
<text transform="translate(29.50,78.46) scale(0.860,1)" font-size="11.80" text-anchor="end">40</text>
<text transform="translate(29.50,55.52) scale(0.860,1)" font-size="11.80" text-anchor="end">45</text>
<text transform="translate(29.50,32.59) scale(0.860,1)" font-size="11.80" text-anchor="end">50</text>
<text transform="translate(29.50,9.65) scale(0.860,1)" font-size="11.80" text-anchor="end">55</text>
<text transform="translate(374.40,271.90) scale(0.860,1)" font-size="11.80" text-anchor="middle">0</text>
<text transform="translate(402.13,271.90) scale(0.860,1)" font-size="11.80" text-anchor="middle">1</text>
<text transform="translate(429.85,271.90) scale(0.860,1)" font-size="11.80" text-anchor="middle">2</text>
<text transform="translate(457.58,271.90) scale(0.860,1)" font-size="11.80" text-anchor="middle">3</text>
<text transform="translate(485.31,271.90) scale(0.860,1)" font-size="11.80" text-anchor="middle">4</text>
<text transform="translate(513.04,271.90) scale(0.860,1)" font-size="11.80" text-anchor="middle">5</text>
<text transform="translate(540.76,271.90) scale(0.860,1)" font-size="11.80" text-anchor="middle">6</text>
<text transform="translate(568.49,271.90) scale(0.860,1)" font-size="11.80" text-anchor="middle">7</text>
<text transform="translate(596.22,271.90) scale(0.860,1)" font-size="11.80" text-anchor="middle">8</text>
<text transform="translate(623.95,271.90) scale(0.860,1)" font-size="11.80" text-anchor="middle">9</text>
<text transform="translate(651.67,271.90) scale(0.860,1)" font-size="11.80" text-anchor="middle">10</text>
<text transform="translate(679.40,271.90) scale(0.860,1)" font-size="11.80" text-anchor="middle">11</text>
<text transform="translate(368.80,261.85) scale(0.860,1)" font-size="11.80" text-anchor="end">0</text>
<text transform="translate(368.80,238.92) scale(0.860,1)" font-size="11.80" text-anchor="end">5</text>
<text transform="translate(368.80,215.99) scale(0.860,1)" font-size="11.80" text-anchor="end">10</text>
<text transform="translate(368.80,193.05) scale(0.860,1)" font-size="11.80" text-anchor="end">15</text>
<text transform="translate(368.80,170.12) scale(0.860,1)" font-size="11.80" text-anchor="end">20</text>
<text transform="translate(368.80,147.19) scale(0.860,1)" font-size="11.80" text-anchor="end">25</text>
<text transform="translate(368.80,124.26) scale(0.860,1)" font-size="11.80" text-anchor="end">30</text>
<text transform="translate(368.80,101.33) scale(0.860,1)" font-size="11.80" text-anchor="end">35</text>
<text transform="translate(368.80,78.40) scale(0.860,1)" font-size="11.80" text-anchor="end">40</text>
<text transform="translate(368.80,55.46) scale(0.860,1)" font-size="11.80" text-anchor="end">45</text>
<text transform="translate(368.80,32.53) scale(0.860,1)" font-size="11.80" text-anchor="end">50</text>
<text transform="translate(368.80,9.60) scale(0.860,1)" font-size="11.80" text-anchor="end">55</text>
</g>
<g class="tx">
<line x1="46.40" y1="20.10" x2="75.60" y2="20.10" stroke="#4f4f4f" stroke-width="1.8"/>
<text transform="translate(78.40,24.70) scale(0.940,1)" font-size="13.50" text-anchor="start">10-15°</text>
<line x1="46.40" y1="36.25" x2="75.60" y2="36.25" stroke="#ee4045" stroke-width="1.8"/>
<text transform="translate(78.40,40.85) scale(0.940,1)" font-size="13.50" text-anchor="start">10-30°</text>
<line x1="46.40" y1="52.40" x2="75.60" y2="52.40" stroke="#2270e0" stroke-width="1.8"/>
<text transform="translate(78.40,57.00) scale(0.940,1)" font-size="13.50" text-anchor="start">10-45°</text>
<line x1="46.40" y1="68.55" x2="75.60" y2="68.55" stroke="#3cac6c" stroke-width="1.8"/>
<text transform="translate(78.40,73.15) scale(0.940,1)" font-size="13.50" text-anchor="start">10-60°</text>
<line x1="46.40" y1="84.70" x2="75.60" y2="84.70" stroke="#b07ce0" stroke-width="1.8"/>
<text transform="translate(78.40,89.30) scale(0.940,1)" font-size="13.50" text-anchor="start">10-75°</text>
<line x1="46.40" y1="100.85" x2="75.60" y2="100.85" stroke="#d4a21e" stroke-width="1.8"/>
<text transform="translate(78.40,105.45) scale(0.940,1)" font-size="13.50" text-anchor="start">10-90°</text>
<line x1="46.40" y1="117.00" x2="75.60" y2="117.00" stroke="#26cccc" stroke-width="1.8"/>
<text transform="translate(78.40,121.60) scale(0.940,1)" font-size="13.50" text-anchor="start">Intact sample</text>
<line x1="386.80" y1="20.60" x2="416.40" y2="20.60" stroke="#4f4f4f" stroke-width="1.8"/>
<text transform="translate(419.20,25.10) scale(0.960,1)" font-size="13.50" text-anchor="start">5-45°</text>
<line x1="386.80" y1="36.73" x2="416.40" y2="36.73" stroke="#ee4045" stroke-width="1.8"/>
<text transform="translate(419.20,41.23) scale(0.960,1)" font-size="13.50" text-anchor="start">10-45°</text>
<line x1="386.80" y1="52.86" x2="416.40" y2="52.86" stroke="#2270e0" stroke-width="1.8"/>
<text transform="translate(419.20,57.36) scale(0.960,1)" font-size="13.50" text-anchor="start">15-45°</text>
<line x1="386.80" y1="68.99" x2="416.40" y2="68.99" stroke="#3cac6c" stroke-width="1.8"/>
<text transform="translate(419.20,73.49) scale(0.960,1)" font-size="13.50" text-anchor="start">Intact sample</text>
</g>
<g class="tx">
<text transform="translate(153.00,290.60) scale(0.935,1)" font-size="13.50" text-anchor="start">Strain/10<tspan dy="-5.2" font-size="9.5">-3</tspan></text>
<text transform="translate(491.30,290.60) scale(0.950,1)" font-size="13.50" text-anchor="start">Strain/10<tspan dy="-5.2" font-size="9.5">-3</tspan></text>
<text transform="translate(11.2,158) rotate(-90)" font-size="14">Stress/MPa</text>
<text transform="translate(355.3,157.5) rotate(-90)" font-size="14">Stress/MPa</text>
<text transform="translate(77.30,313.70) scale(0.990,1)" font-size="14.00" text-anchor="start">(a) Different inclination angles</text>
<text transform="translate(469.80,313.70) scale(0.914,1)" font-size="14.00" text-anchor="start">(b) Different lengths</text>
</g>
</svg>
</body></html>
